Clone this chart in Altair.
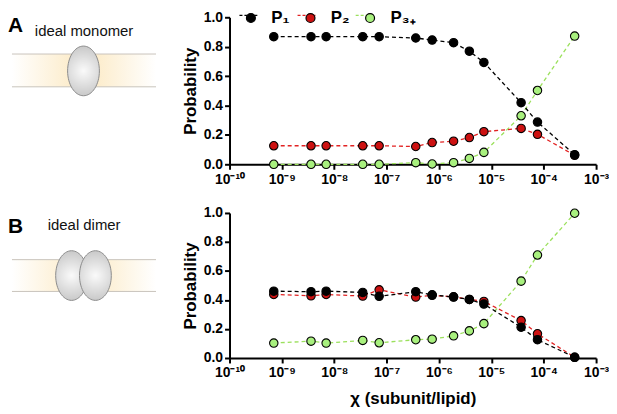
import altair as alt
import pandas as pd

# ---------------- data ----------------
x_vals = [7.0e-10, 3.6e-9, 7.0e-9, 3.5e-8, 7.2e-8, 3.6e-7, 7.4e-7,
          1.9e-6, 3.8e-6, 7.2e-6, 3.7e-5, 7.6e-5, 3.9e-4]

series_names = ["P1", "P2", "P3+"]
legend_text = ["P\u2081", "P\u2082", "P\u2083\u208a"]

mono_p1 = [0.868, 0.868, 0.868, 0.868, 0.868, 0.859, 0.845, 0.827, 0.769, 0.693, 0.419, 0.287, 0.065]
mono_p2 = [0.126, 0.126, 0.126, 0.126, 0.126, 0.121, 0.148, 0.157, 0.182, 0.222, 0.244, 0.204, 0.061]
mono_p3 = [0.0, 0.0, 0.0, 0.0, 0.0, 0.011, 0.002, 0.011, 0.040, 0.081, 0.330, 0.502, 0.872]

dimer_p1 = [0.461, 0.457, 0.461, 0.452, 0.425, 0.457, 0.436, 0.420, 0.404, 0.372, 0.212, 0.126, 0.005]
dimer_p2 = [0.438, 0.429, 0.438, 0.427, 0.470, 0.420, 0.432, 0.422, 0.404, 0.390, 0.258, 0.167, 0.005]
dimer_p3 = [0.103, 0.116, 0.103, 0.121, 0.105, 0.126, 0.130, 0.153, 0.187, 0.237, 0.530, 0.710, 0.998]

fill_colors = ["#000000", "#cc1111", "#a8f07e"]
line_colors = ["#000000", "#e22222", "#9be05c"]

tick_exps = [-10, -9, -8, -7, -6, -5, -4, -3]
sup = {"-": "\u207b", "0": "\u2070", "1": "\u00b9", "2": "\u00b2", "3": "\u00b3",
       "4": "\u2074", "5": "\u2075", "6": "\u2076", "7": "\u2077", "8": "\u2078", "9": "\u2079"}
x_ticks = [10.0 ** e for e in tick_exps]
y_ticks = [0.0, 0.2, 0.4, 0.6, 0.8, 1.0]

FONT = "Liberation Sans"


def tick_label_expr():
    expr = "''"
    for e in reversed(tick_exps):
        s = "10" + "".join(sup[c] for c in str(e))
        expr = f"round(log(datum.value)/LN10) == {e} ? '{s}' : " + expr
    return expr


def legend_label_expr():
    expr = "datum.label"
    for n, t in reversed(list(zip(series_names, legend_text))):
        expr = f"datum.label == '{n}' ? '{t}' : " + expr
    return expr


def make_df(p1, p2, p3):
    rows = []
    # draw order: P3+ first, P1 last (on top)
    for name, vals in reversed(list(zip(series_names, [p1, p2, p3]))):
        for x, v in zip(x_vals, vals):
            rows.append({"x": x, "p": v, "s": name, "s2": name})
    return pd.DataFrame(rows)


one = alt.Data(values=[{"k": 0}])

band_gradient = {
    "gradient": "linear", "x1": 0, "x2": 1, "y1": 0, "y2": 0,
    "stops": [
        {"offset": 0, "color": "#ffffff"},
        {"offset": 0.45, "color": "#fcebc8"},
        {"offset": 0.55, "color": "#fcebc8"},
        {"offset": 1, "color": "#ffffff"},
    ],
}
blob_gradient = {
    "gradient": "radial", "x1": 0.5, "y1": 0.5, "x2": 0.5, "y2": 0.5, "r1": 0, "r2": 0.55,
    "stops": [
        {"offset": 0, "color": "#fafafa"},
        {"offset": 1, "color": "#c4c4c4"},
    ],
}
ELLIPSE = "M0,-1A0.64,1 0 1,1 0,1A0.64,1 0 1,1 0,-1Z"


def decor(letter, letter_y, title, title_x, title_y, band_y0, band_y1, blob_xs, blob_y):
    layers = []
    layers.append(
        alt.Chart(one).mark_rect(fill=band_gradient).encode(
            x=alt.value(-219), x2=alt.value(-74), y=alt.value(band_y0), y2=alt.value(band_y1)
        )
    )
    for yy in (band_y0, band_y1):
        layers.append(
            alt.Chart(one).mark_rule(stroke="#c9c4bb", strokeWidth=1).encode(
                x=alt.value(-219), x2=alt.value(-74), y=alt.value(yy)
            )
        )
    for bx in blob_xs:
        layers.append(
            alt.Chart(one).mark_point(
                shape=ELLIPSE, size=2500, filled=True, fill=blob_gradient,
                stroke="#8c8c8c", strokeWidth=1, opacity=1
            ).encode(x=alt.value(bx), y=alt.value(blob_y))
        )
    layers.append(
        alt.Chart(one).mark_text(
            text=letter, align="left", baseline="alphabetic", font=FONT,
            fontSize=21, fontWeight="bold", color="black"
        ).encode(x=alt.value(-223), y=alt.value(letter_y))
    )
    layers.append(
        alt.Chart(one).mark_text(
            text=title, align="left", baseline="alphabetic", font=FONT,
            fontSize=15, color="#111111"
        ).encode(x=alt.value(title_x), y=alt.value(title_y))
    )
    return layers


def panel(df, height, show_legend, x_title):
    x_axis = alt.Axis(values=x_ticks, labelExpr=tick_label_expr(), title=x_title,
                      titlePadding=11, labelPadding=3, labelFlush=False)
    x_enc = alt.X("x:Q", scale=alt.Scale(type="log", domain=[1e-10, 1e-3], nice=False),
                  axis=x_axis)
    y_enc = alt.Y("p:Q", scale=alt.Scale(domain=[0, 1], nice=False),
                  axis=alt.Axis(values=y_ticks, format=".1f", title="Probability",
                                titlePadding=4, labelPadding=2))
    common_leg = dict(orient="none", legendX=13, legendY=-8, direction="horizontal",
                      title=None, padding=0, symbolSize=100)
    if show_legend:
        stroke_leg = alt.Legend(symbolType="M-1.8,0H1.8", symbolStrokeWidth=1.3,
                                symbolDash=[3, 2], labelExpr="''", labelOffset=12,
                                columnPadding=28.5, zindex=0, **common_leg)
        fill_leg = alt.Legend(symbolType="M-0.9,0A0.9,0.9 0 1,0 0.9,0A0.9,0.9 0 1,0 -0.9,0Z",
                              symbolStrokeColor="black", symbolStrokeWidth=1.2,
                              symbolOpacity=1, zindex=1, labelFont=FONT, labelFontSize=17,
                              labelFontWeight="bold", labelColor="black", labelOffset=12,
                              columnPadding=12, labelExpr=legend_label_expr(), **common_leg)
    else:
        stroke_leg = None
        fill_leg = None

    base = alt.Chart(df)
    lines = base.mark_line(strokeDash=[4, 3], strokeWidth=1.3).encode(
        x=x_enc, y=y_enc,
        stroke=alt.Stroke("s:N", scale=alt.Scale(domain=series_names, range=line_colors),
                          legend=stroke_leg, sort=series_names[::-1]),
    )
    pts = base.mark_circle(size=72, stroke="black", strokeWidth=1.1, opacity=1).encode(
        x=x_enc, y=y_enc,
        fill=alt.Fill("s2:N", scale=alt.Scale(domain=series_names, range=fill_colors),
                      legend=fill_leg),
    )
    return lines, pts


df_top = make_df(mono_p1, mono_p2, mono_p3)
df_bot = make_df(dimer_p1, dimer_p2, dimer_p3)

l1, p1 = panel(df_top, 148, True, None)
l2, p2 = panel(df_bot, 146, False, "\u03c7 (subunit/lipid)")

top = alt.layer(
    *decor("A", 15, "ideal monomer", -196, 19, 37, 70, [-147], 54), l1, p1
).resolve_scale(stroke="independent", fill="independent").properties(width=369, height=148)

bottom = alt.layer(
    *decor("B", 20, "ideal dimer", -183, 17, 47, 79, [-159, -135], 63), l2, p2
).resolve_scale(stroke="independent", fill="independent").properties(width=369, height=146)

chart = alt.vconcat(top, bottom, spacing=20).resolve_scale(
    stroke="independent", fill="independent"
).resolve_legend(stroke="independent", fill="independent").properties(
    padding={"left": 0, "top": 0, "right": 0, "bottom": 0}
).configure_view(stroke=None).configure_axis(
    domainColor="black", domainWidth=2, tickColor="black", tickWidth=2, tickSize=5,
    labelFont=FONT, labelFontSize=14, labelFontWeight="bold", labelColor="black",
    titleFont=FONT, titleFontSize=17, titleFontWeight="bold", titleColor="black",
    grid=False
)

chart.save("out.html", embed_options={"renderer": "svg", "actions": False})
